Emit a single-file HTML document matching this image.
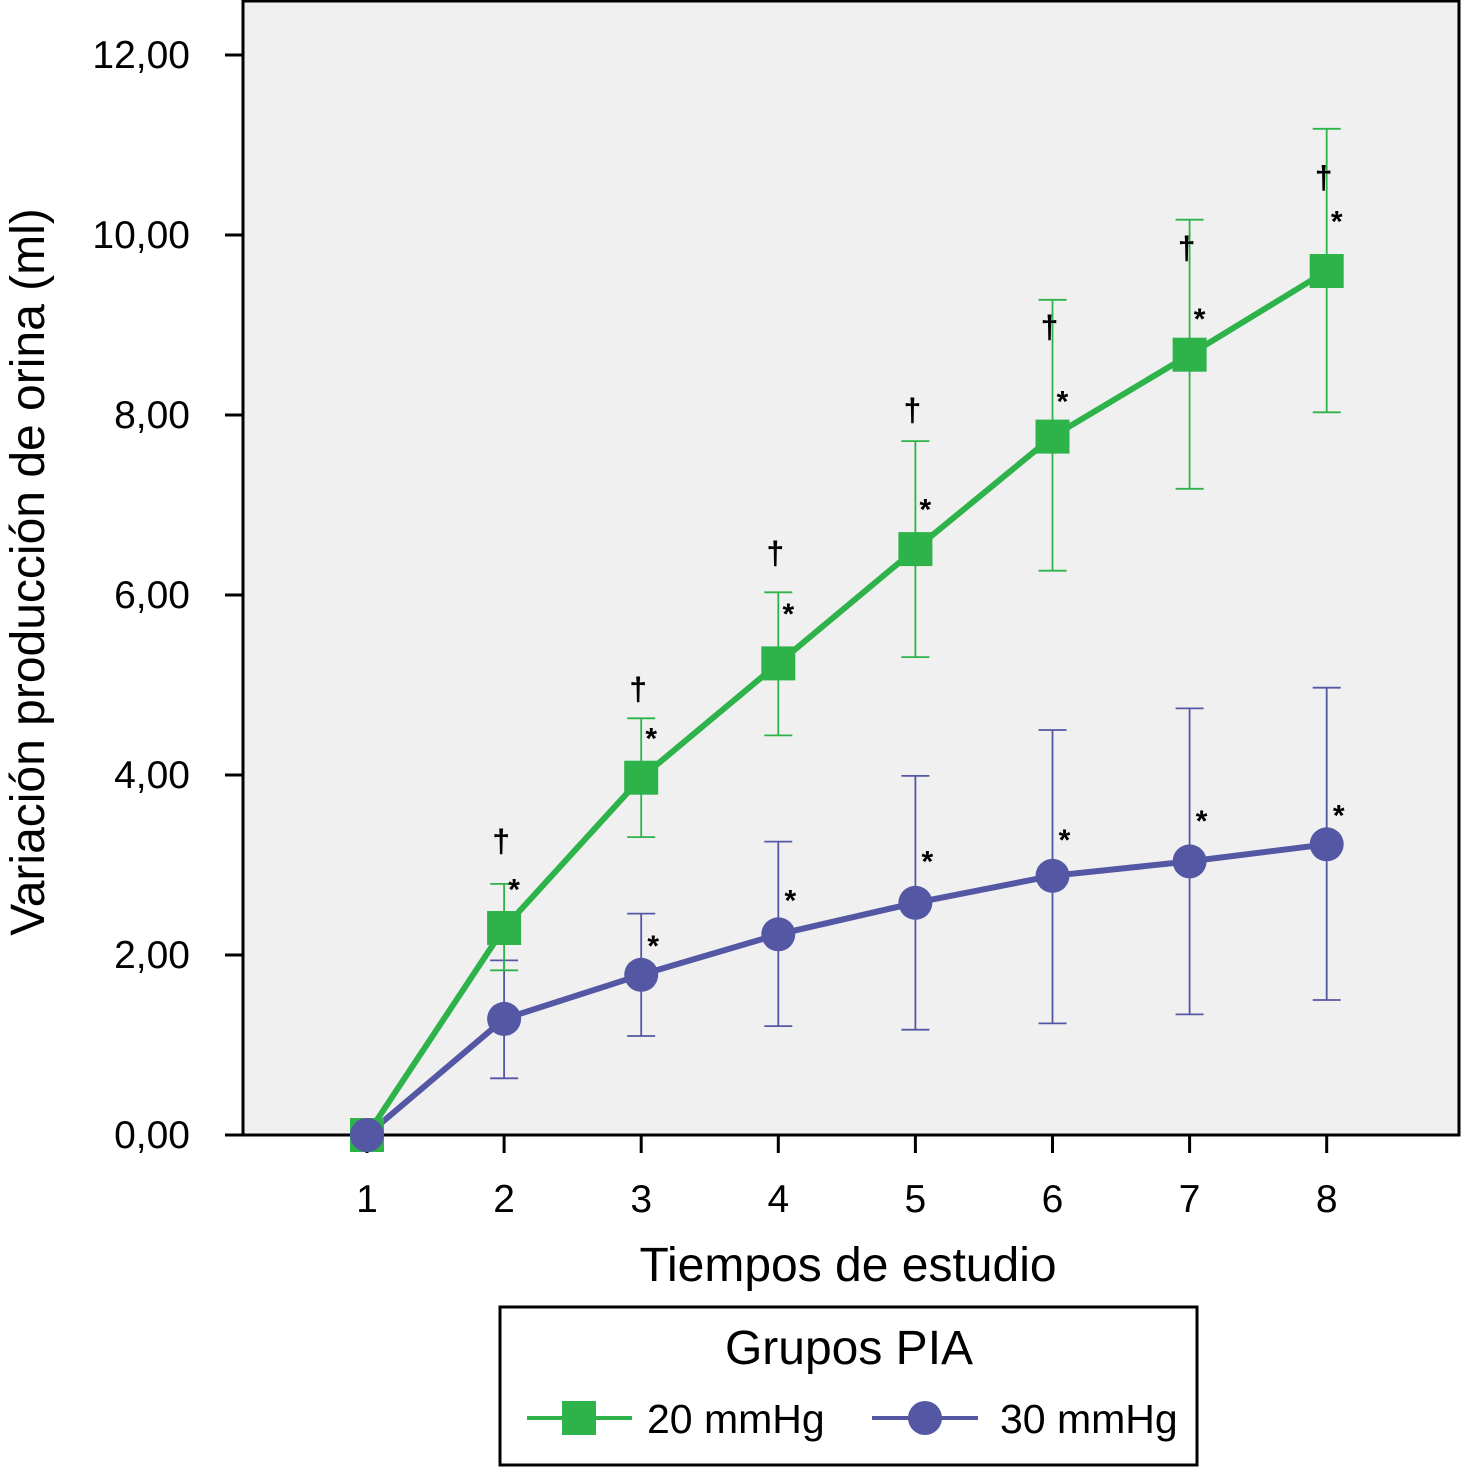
<!DOCTYPE html>
<html><head><meta charset="utf-8"><style>
html,body{margin:0;padding:0;background:#fff;}
svg{display:block;font-family:"Liberation Sans",Arial,sans-serif;}
</style></head><body>
<svg id="chart" width="1461" height="1468" viewBox="0 0 1461 1468">
<rect x="243" y="1" width="1216" height="1134" fill="#f0f0f0" stroke="#000" stroke-width="3"/>
<g id="axes"></g>
<g id="series"></g>
<text x="848" y="1281" font-size="48" text-anchor="middle">Tiempos de estudio</text>
<text transform="translate(44,572) rotate(-90)" font-size="48" text-anchor="middle">Variación producción de orina (ml)</text>
<g>
<rect x="500" y="1307" width="697" height="158" fill="#fff" stroke="#000" stroke-width="3"/>
<text x="849" y="1364" font-size="48" text-anchor="middle">Grupos PIA</text>
<g>
<line x1="527" y1="1418" x2="632" y2="1418" stroke="#2db34a" stroke-width="4"/>
<rect x="562" y="1401" width="34" height="34" fill="#2db34a"/>
<text x="647" y="1433" font-size="41">20 mmHg</text></g>
<g>
<line x1="872" y1="1418" x2="978" y2="1418" stroke="#5457a3" stroke-width="4"/>
<circle cx="925" cy="1418" r="17" fill="#5457a3"/>
<text x="1000" y="1433" font-size="41">30 mmHg</text></g>
</g>
</svg>
<script>
const categories=[1,2,3,4,5,6,7,8];
const yTicks=[0,2,4,6,8,10,12];
const yTickLabels=["0,00","2,00","4,00","6,00","8,00","10,00","12,00"];
const g20=[0,2.30,3.97,5.24,6.51,7.76,8.67,9.60];
const g20Hi=[null,2.79,4.63,6.03,7.71,9.28,10.17,11.18];
const g20Lo=[null,1.83,3.31,4.44,5.31,6.27,7.18,8.03];
const g30=[0,1.29,1.78,2.23,2.58,2.88,3.04,3.23];
const g30Hi=[null,1.94,2.46,3.26,3.99,4.50,4.74,4.97];
const g30Lo=[null,0.63,1.10,1.21,1.17,1.24,1.34,1.50];
const g20Dagger=[null,3.30,4.99,6.50,8.09,9.01,9.89,10.67];
const g20Star=[null,2.75,4.43,5.81,6.97,8.17,9.09,10.17];
const g30Star=[null,null,2.12,2.63,3.06,3.30,3.51,3.57];
const ns="http://www.w3.org/2000/svg";
const X=c=>367+(c-1)*137.1;
const Y=v=>1135-v*90;
function mk(t,a,p){const e=document.createElementNS(ns,t);for(const k in a)e.setAttribute(k,a[k]);p.appendChild(e);return e;}
const ax=document.getElementById('axes'), se=document.getElementById('series');
let l=mk('line',{x1:225,y1:1135,x2:243,y2:1135,stroke:'#000','stroke-width':3},ax);

yTicks.forEach((v,i)=>{
 let t=mk('line',{x1:225,y1:Y(v),x2:243,y2:Y(v),stroke:'#000','stroke-width':3},ax);
 
 let tx=mk('text',{x:190,y:Y(v)+13,'font-size':39,'text-anchor':'end'},ax);tx.textContent=yTickLabels[i];
 
});
categories.forEach(c=>{
 let t=mk('line',{x1:X(c),y1:1135,x2:X(c),y2:1153,stroke:'#000','stroke-width':3},ax);
 
 let tx=mk('text',{x:X(c),y:1212,'font-size':39,'text-anchor':'middle'},ax);tx.textContent=c;
 
});
function errs(hi,lo,col,name){
 categories.forEach((c,i)=>{if(hi[i]==null)return;
  const x=X(c);
  const g=mk('g',{stroke:col,'stroke-width':1.8},se);
  
  mk('line',{x1:x,y1:Y(hi[i]),x2:x,y2:Y(lo[i])},g);
  mk('line',{x1:x-14,y1:Y(hi[i]),x2:x+14,y2:Y(hi[i])},g);
  mk('line',{x1:x-14,y1:Y(lo[i]),x2:x+14,y2:Y(lo[i])},g);
 });
}
errs(g30Hi,g30Lo,'#5457a3','error-bar-30');
errs(g20Hi,g20Lo,'#2db34a','error-bar-20');
let p=mk('polyline',{points:categories.map((c,i)=>X(c)+','+Y(g30[i])).join(' '),fill:'none',stroke:'#5457a3','stroke-width':6},se);

p=mk('polyline',{points:categories.map((c,i)=>X(c)+','+Y(g20[i])).join(' '),fill:'none',stroke:'#2db34a','stroke-width':6},se);

categories.forEach((c,i)=>{
 let s=mk('rect',{x:X(c)-17,y:Y(g20[i])-17,width:34,height:34,fill:'#2db34a'},se);
 
});
categories.forEach((c,i)=>{
 let s=mk('circle',{cx:X(c),cy:Y(g30[i]),r:17,fill:'#5457a3'},se);
 
});
function marks(arr,ch,dx,name){
 categories.forEach((c,i)=>{if(arr[i]==null)return;
  let t=mk('text',{x:X(c)+dx,y:Y(arr[i])+(ch=='*'?12:14),'font-size':ch=='*'?30:32,'font-weight':'bold','text-anchor':'middle'},se);
  t.textContent=ch;
  
 });
}
marks(g20Dagger,'†',-3,'significance-dagger');
marks(g20Star,'*',10,'significance-star-20');
marks(g30Star,'*',12,'significance-star-30');
</script>
</body></html>
